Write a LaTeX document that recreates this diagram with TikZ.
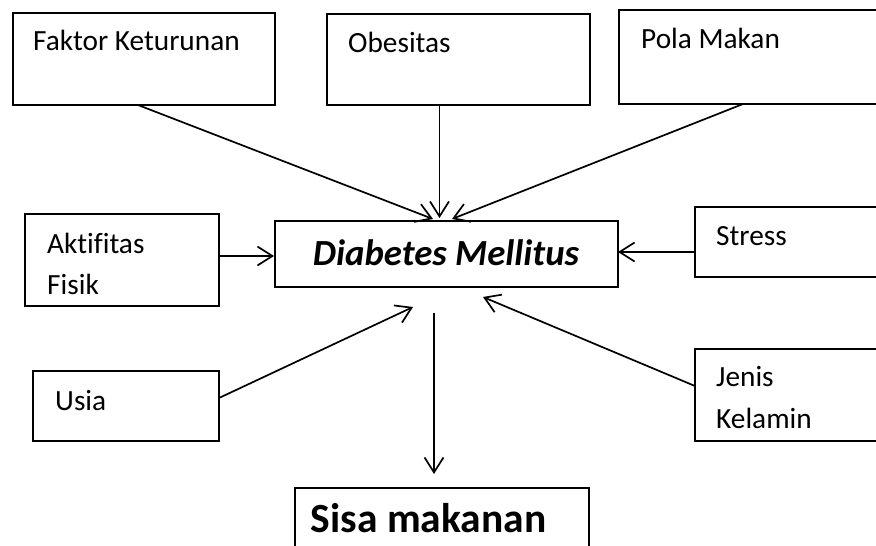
\documentclass[tikz,border=0pt]{standalone}
\usepackage{fontspec}
\setmainfont{Carlito}[Ligatures=CommonOff]
\usetikzlibrary{arrows.meta,calc}
\begin{document}
\begin{tikzpicture}[x=1pt,y=-1pt,
  box/.style={draw,line width=1.8pt,rectangle,inner sep=0pt,outer sep=0pt},
  lbl/.style={anchor=base west,inner sep=0pt,font=\fontsize{29.3}{41}\selectfont},
  conn/.style={line width=1.7pt,-{Straight Barb[length=15pt,width=19pt,line width=1.7pt]}}]
\clip (0,0) rectangle (876,546);
% boxes
\node[box,minimum width=262pt,minimum height=92pt] (fk) at (144,59) {};
\node[box,minimum width=263pt,minimum height=91pt] (ob) at (458.5,59.5) {};
\node[box,minimum width=281pt,minimum height=94pt] (pm) at (759.5,57) {};
\node[box,minimum width=194pt,minimum height=92pt] (ak) at (122,260) {};
\node[box,minimum width=343pt,minimum height=66pt] (dm) at (446.5,254) {};
\node[box,minimum width=205pt,minimum height=70pt] (st) at (797.5,242) {};
\node[box,minimum width=186pt,minimum height=70pt] (us) at (126,406) {};
\node[box,minimum width=205pt,minimum height=92pt] (jk) at (797.5,395) {};
\node[box,minimum width=294pt,minimum height=82pt] (sm) at (442,529) {};
% texts
\node[lbl] (fkT) at (33,50) {Faktor Keturunan};
\node[lbl] (obT) at (348,52) {Obesitas};
\node[lbl] (pmT) at (641,48) {Pola Makan};
\node[lbl] (akT1) at (47,253) {Aktifitas};
\node[lbl] (akT2) at (47,294) {Fisik};
\node[lbl] (stT) at (716,245) {Stress};
\node[lbl] (usT) at (55,410) {Usia};
\node[lbl] (jkT1) at (716,386) {Jenis};
\node[lbl] (jkT2) at (716,428) {Kelamin};
\node[anchor=base,inner sep=0pt,font=\fontsize{36.8}{44}\selectfont\bfseries\itshape] (dmT) at (446,265) {Diabetes Mellitus};
\node[anchor=base,inner sep=0pt,font=\fontsize{41.5}{50}\selectfont\bfseries] (smT) at (428.5,532) {Sisa makanan};
% connector ends
\coordinate (e1) at (433,219);
\coordinate (e2) at (439.5,218);
\coordinate (e3) at (452,219);
\coordinate (e4) at (274,256);
\coordinate (e5) at (618,252);
\coordinate (e6) at (413,307);
\coordinate (e7) at (483,297);
\coordinate (s8) at (434,313);
\coordinate (e8) at (434,474);
% connectors
\draw[conn] ($(fk.south west)+(125,0)$) -- (e1);
\draw[conn] ($(ob.south)+(-19,0)$) -- (e2);
\draw[conn] ($(pm.south west)+(124,0)$) -- (e3);
\draw[conn] ($(ak.east)+(0,-4)$) -- (e4);
\draw[conn] ($(st.west)+(0,10)$) -- (e5);
\draw[conn] ($(us.east)+(0,-8)$) -- (e6);
\draw[conn] ($(jk.west)+(0,-9)$) -- (e7);
\draw[conn] (s8) -- (e8);
\end{tikzpicture}
\end{document}
